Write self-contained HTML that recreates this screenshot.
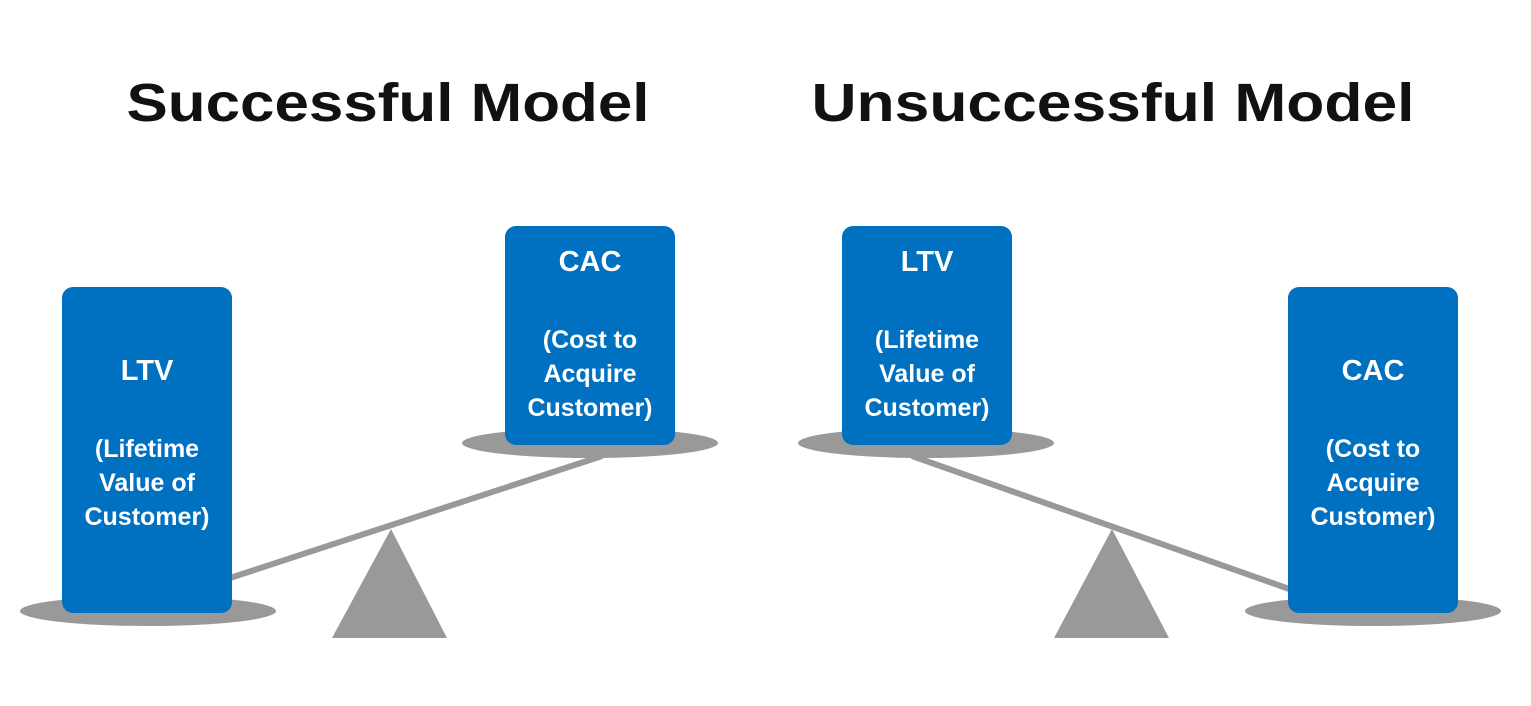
<!DOCTYPE html>
<html><head><meta charset="utf-8"><style>
html,body{margin:0;padding:0;background:#fff;}
svg{display:block}
text{font-family:"Liberation Sans",sans-serif;font-weight:bold;}
</style></head><body>
<svg width="1531" height="706" viewBox="0 0 1531 706" xmlns="http://www.w3.org/2000/svg">
<text x="388" y="121" font-size="54" text-anchor="middle" fill="#111" textLength="523" lengthAdjust="spacingAndGlyphs">Successful Model</text>
<text x="1113" y="121" font-size="54" text-anchor="middle" fill="#111" textLength="603" lengthAdjust="spacingAndGlyphs">Unsuccessful Model</text>
<g fill="#999">
<ellipse cx="148" cy="611" rx="128" ry="15"/>
<ellipse cx="590" cy="443" rx="128" ry="15"/>
<ellipse cx="926" cy="443" rx="128" ry="15"/>
<ellipse cx="1373" cy="611" rx="128" ry="15"/>
<polygon points="391,529 332,638 447,638"/>
<polygon points="1112,529 1054,638 1169,638"/>
</g>
<g stroke="#999" stroke-width="6">
<line x1="230" y1="578" x2="602" y2="456"/>
<line x1="912" y1="456" x2="1292" y2="590"/>
</g>
<g fill="#0070c0">
<rect x="62" y="287" width="170" height="326" rx="11"/>
<rect x="505" y="226" width="170" height="219" rx="11"/>
<rect x="842" y="226" width="170" height="219" rx="11"/>
<rect x="1288" y="287" width="170" height="326" rx="11"/>
</g>
<g fill="#fff" font-size="25" text-anchor="middle">
<text x="147" y="380" font-size="29">LTV</text>
<text x="147" y="457">(Lifetime</text>
<text x="147" y="491">Value of</text>
<text x="147" y="525">Customer)</text>
<text x="590" y="271" font-size="29">CAC</text>
<text x="590" y="348">(Cost to</text>
<text x="590" y="382">Acquire</text>
<text x="590" y="416">Customer)</text>
<text x="927" y="271" font-size="29">LTV</text>
<text x="927" y="348">(Lifetime</text>
<text x="927" y="382">Value of</text>
<text x="927" y="416">Customer)</text>
<text x="1373" y="380" font-size="29">CAC</text>
<text x="1373" y="457">(Cost to</text>
<text x="1373" y="491">Acquire</text>
<text x="1373" y="525">Customer)</text>
</g>
</svg>
</body></html>
